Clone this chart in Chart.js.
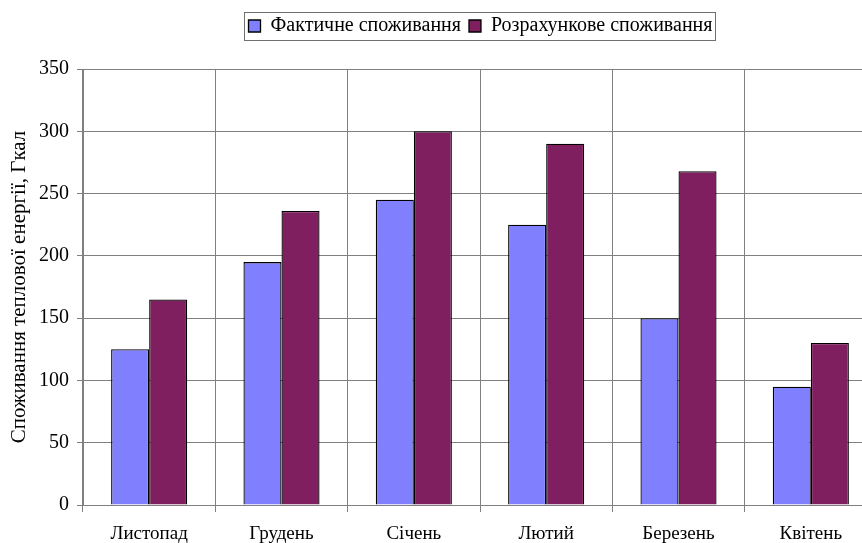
<!DOCTYPE html>
<html>
<head>
<meta charset="utf-8">
<script src="https://cdn.jsdelivr.net/npm/chart.js@4/dist/chart.umd.min.js"></script>
<style>
  html, body { margin: 0; padding: 0; background: #fff; overflow: hidden; }
  #wrap { width: 960px; height: 543px; }
</style>
</head>
<body>
<div id="wrap"><canvas id="heatChart" width="960" height="543"></canvas></div>
<script>
// --- Data ---
const months = ["Листопад", "Грудень", "Січень", "Лютий", "Березень", "Квітень"];
const actualUse = [125, 195, 245, 225, 150, 95];
const calculatedUse = [165, 236, 300, 290, 268, 130];
const yTicks = [0, 50, 100, 150, 200, 250, 300, 350];

const serif = "'Liberation Serif', 'Times New Roman', serif";
const legendShift = 42;

// legend: extra room under it, moved right, framed
const legendBox = {
  id: "legendBox",
  beforeInit(chart) {
    const legend = chart.legend;
    const fit = legend.fit;
    legend.fit = function () {
      fit.call(this);
      this.height += 23;
    };
    const draw = legend.draw;
    legend.draw = function () {
      const ctx = this.ctx;
      ctx.save();
      ctx.translate(legendShift, 0);
      draw.call(this);
      const boxes = this.legendHitBoxes;
      if (boxes && boxes.length) {
        const last = boxes[boxes.length - 1];
        const x1 = Math.round(boxes[0].left - 5) + 0.5;
        const x2 = Math.round(last.left + last.width + 3) + 0.5;
        const y1 = Math.round(boxes[0].top - 4) + 0.5;
        const y2 = Math.round(boxes[0].top + boxes[0].height + 4) + 0.5;
        ctx.strokeStyle = "#707070";
        ctx.lineWidth = 1;
        ctx.strokeRect(x1, y1, x2 - x1, y2 - y1);
      }
      ctx.restore();
    };
  }
};

const ctx = document.getElementById("heatChart").getContext("2d");
new Chart(ctx, {
  type: "bar",
  data: {
    labels: months,
    datasets: [
      { label: "Фактичне споживання", data: actualUse, backgroundColor: "#8080ff", borderColor: "#000", borderWidth: 1.3 },
      { label: "Розрахункове споживання", data: calculatedUse, backgroundColor: "#7f1f5f", borderColor: "#000", borderWidth: 1.3 }
    ]
  },
  options: {
    responsive: false,
    animation: false,
    layout: { padding: { top: 8, right: 83, bottom: 0, left: 0 } },
    datasets: { bar: { categoryPercentage: 0.575, barPercentage: 1.0 } },
    plugins: {
      legend: {
        position: "top",
        labels: {
          color: "#000",
          font: { family: serif, size: 20 },
          boxWidth: 12,
          boxHeight: 12,
          padding: 8
        }
      },
      tooltip: { enabled: false }
    },
    scales: {
      x: {
        grid: { color: "#808080", lineWidth: 1, offset: true, tickLength: 7 },
        border: { color: "#808080" },
        ticks: { color: "#000", font: { family: serif, size: 19 }, padding: 11 },
        afterFit(scale) { scale.height = 38; }
      },
      y: {
        min: 0,
        max: 350,
        afterBuildTicks(scale) { scale.ticks = yTicks.map(v => ({ value: v })); },
        grid: { color: "#808080", lineWidth: 1, tickLength: 6 },
        border: { color: "#808080" },
        ticks: { color: "#000", font: { family: serif, size: 20 }, padding: 8 },
        title: {
          display: true,
          text: "Споживання теплової енергії, Гкал",
          color: "#000",
          font: { family: serif, size: 21 },
          padding: { top: 7, bottom: 0 }
        },
        afterFit(scale) { scale.width = 83; }
      }
    }
  },
  plugins: [legendBox]
});
</script>
</body>
</html>
